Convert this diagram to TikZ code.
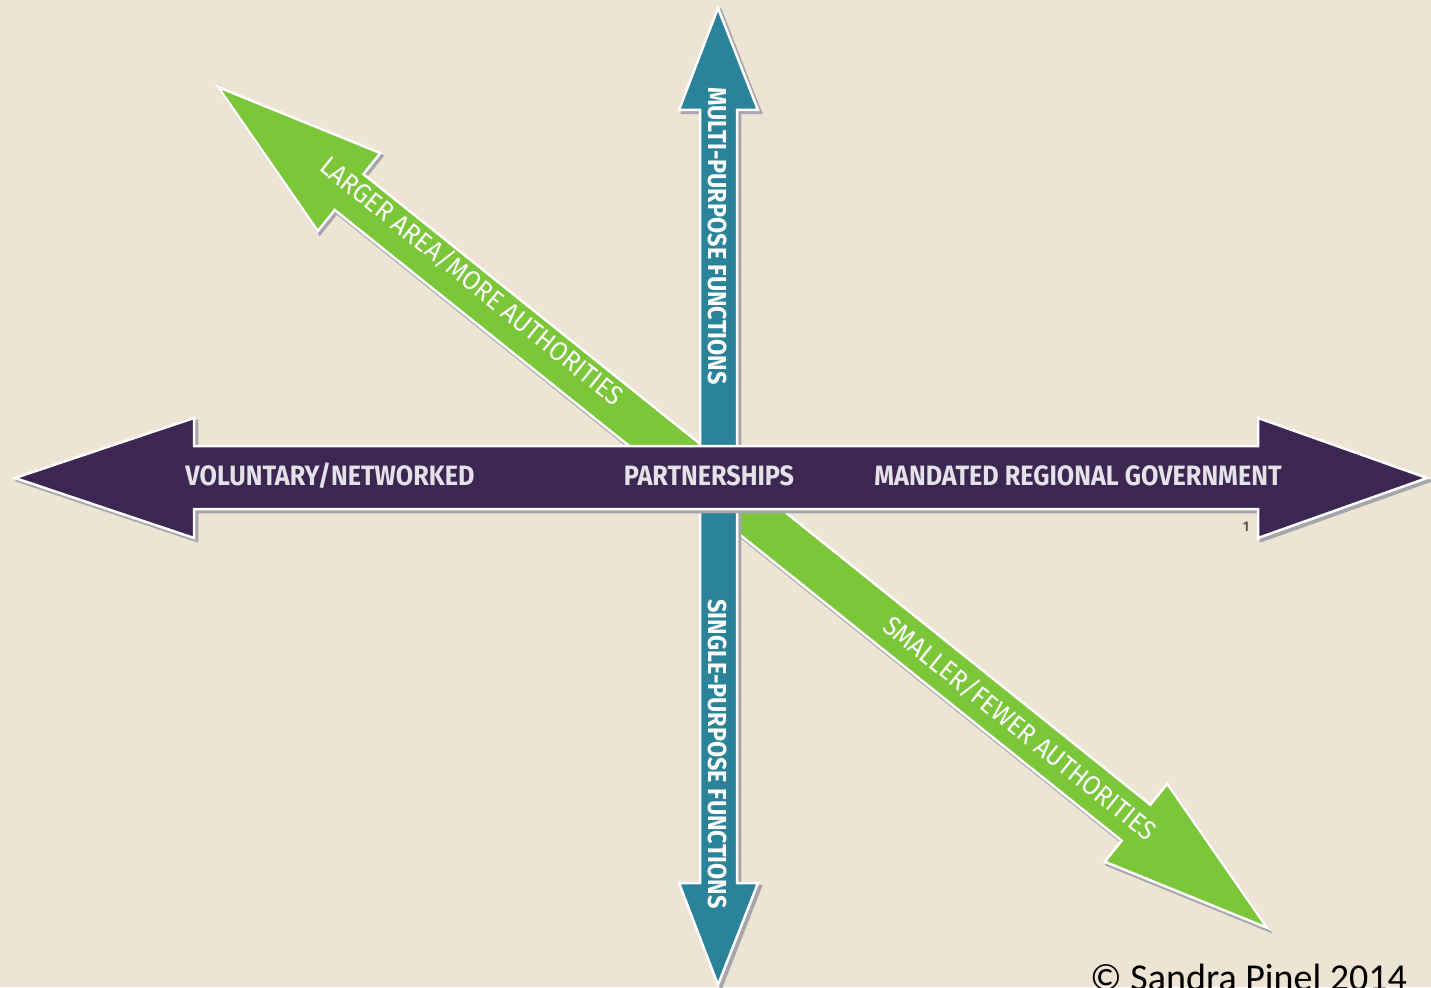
\documentclass[tikz,border=0pt]{standalone}
\usepackage{fontspec}
\newfontfamily\labfont[FakeStretch=0.9]{Fira Sans}
\newfontfamily\glabfont[FakeStretch=0.92]{Fira Sans}
\newfontfamily\copyfont{Carlito}
\definecolor{bgc}{RGB}{237,228,211}
\definecolor{purp}{RGB}{60,38,82}
\definecolor{tealc}{RGB}{42,131,153}
\definecolor{grn}{RGB}{124,198,58}
\definecolor{shadowc}{RGB}{165,165,172}
\definecolor{labc}{RGB}{228,226,232}
\def\purplepath{(15,478) -- (194,418) -- (194,446) -- (1258,446) -- (1258,418) -- (1427,478) -- (1258,538) -- (1258,509) -- (194,509) -- (194,538) -- cycle}
\def\tealpath{(718,8) -- (679,110) -- (700,110) -- (700,883) -- (679,883) -- (718,985) -- (758,883) -- (737,883) -- (737,110) -- (758,110) -- cycle}
\def\greenpath{(0,0) -- (168,50) -- (168,23) -- (1176.5,23) -- (1176.5,50) -- (1344.5,0) -- (1176.5,-50) -- (1176.5,-23) -- (168,-23) -- (168,-50) -- cycle}
\begin{document}
\begin{tikzpicture}[x=1pt,y=-1pt,
  shadowbody/.style={fill=shadowc, draw=shadowc, line width=2.5pt, line join=miter},
  arrowbody/.style={draw=white, line width=2.5pt, line join=miter},
  hlabel/.style={font=\labfont\bfseries\fontsize{28}{28}\selectfont, text=labc, inner sep=0pt, anchor=base},
  vlabel/.style={font=\labfont\bfseries\fontsize{26}{26}\selectfont, text=white, inner sep=0pt, rotate=-90},
  dlabel/.style={font=\glabfont\fontsize{27}{27}\selectfont, text=white, inner sep=0pt, rotate=-38.71}]
\useasboundingbox (0,0) rectangle (1431,987);
\fill[bgc] (0,0) rectangle (1431,987);
% green diagonal arrow
\begin{scope}[shift={(220,90)}, rotate=-38.71]
  \path[shadowbody] \greenpath;
\end{scope}
\begin{scope}[shift={(218,87)}, rotate=-38.71]
  \path[arrowbody, fill=grn] \greenpath;
\end{scope}
% teal vertical arrow
\begin{scope}[shift={(3,3)}]
  \path[shadowbody] \tealpath;
\end{scope}
\path[arrowbody, fill=tealc] \tealpath;
% purple horizontal arrow
\begin{scope}[shift={(3,3)}]
  \path[shadowbody] \purplepath;
\end{scope}
\path[arrowbody, fill=purp] \purplepath;
% labels
\node[hlabel] (vol) at (330,485) {VOLUNTARY/NETWORKED};
\node[hlabel] (part) at (709,485) {PARTNERSHIPS};
\node[hlabel] (mand) at (1078,485) {MANDATED REGIONAL GOVERNMENT};
\node[vlabel] (multi) at (717,236) {MULTI-PURPOSE FUNCTIONS};
\node[vlabel] (single) at (717,754) {SINGLE-PURPOSE FUNCTIONS};
\node[dlabel] (larger) at (472,281) {LARGER AREA/MORE AUTHORITIES};
\node[dlabel] (smaller) at (1020,728) {SMALLER/FEWER AUTHORITIES};
\node[font=\labfont\bfseries\fontsize{14}{14}\selectfont, text=black!65, inner sep=0pt] (one) at (1246,527) {1};
\node[font=\copyfont\fontsize{38}{38}\selectfont, text=black, inner sep=0pt, anchor=base west] (copy) at (1090,990) {© Sandra Pinel 2014};
\end{tikzpicture}
\end{document}
